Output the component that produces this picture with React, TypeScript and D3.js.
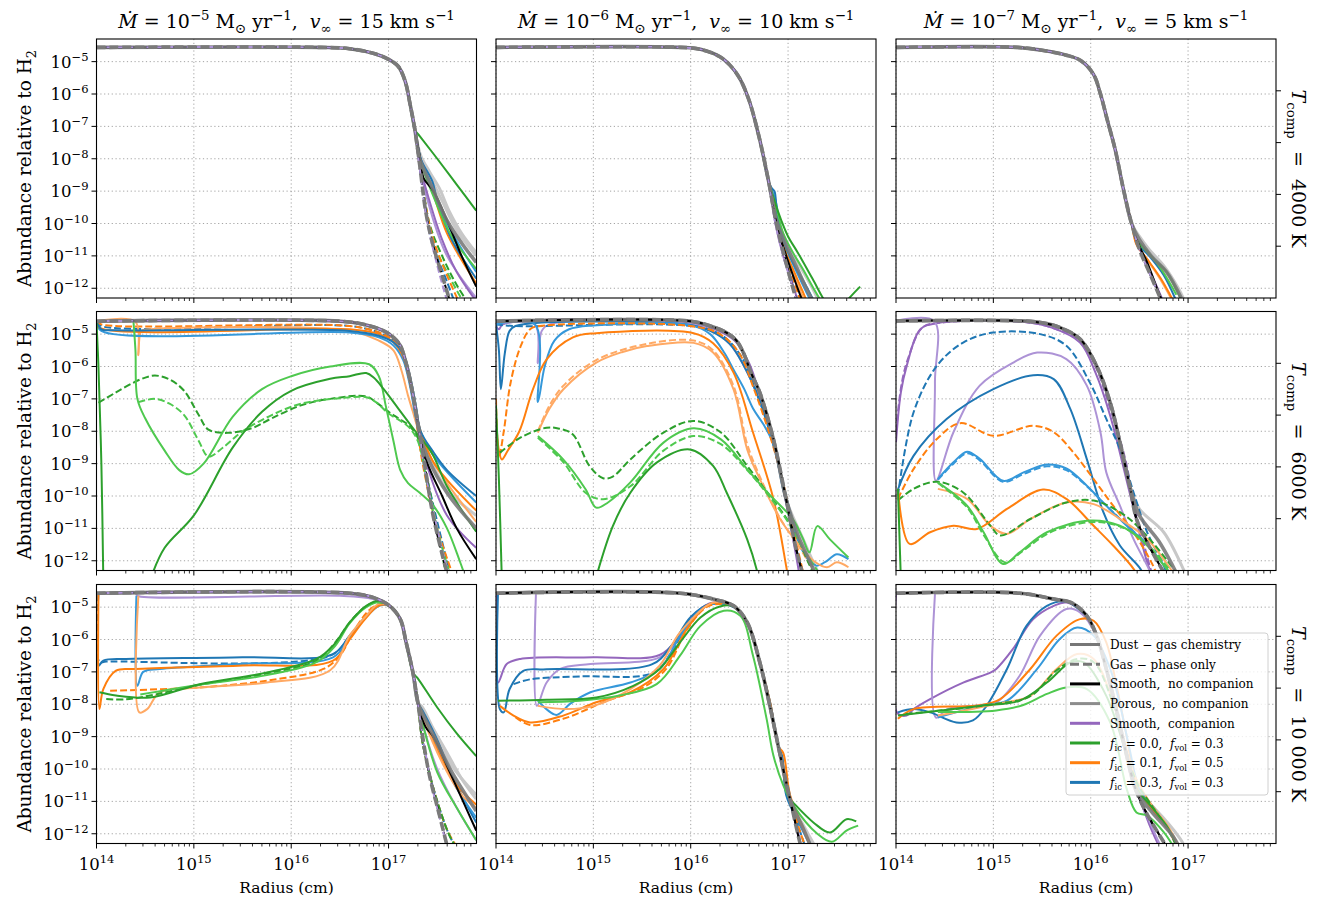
import React from 'react';
import * as d3 from 'd3';

type Pt = [number, number];
type Curve = { c: string; d?: boolean; p: Pt[] };

// ---------- data (log10 radius [cm], log10 abundance) ----------
const top11: Pt[] = [[14,-4.56],[16.3,-4.56],[16.6,-4.6],[16.85,-4.75],[17.0,-4.93],[17.1,-5.15],[17.17,-5.6],[17.22,-6.3],[17.27,-7.1]];
const p11: Curve[] = [
  { c: 'lgray', p: [...top11, [17.33,-7.9],[17.42,-8.4],[17.52,-8.9],[17.62,-9.6],[17.75,-10.3],[17.9,-10.9]] },
  { c: 'lgray', p: [...top11, [17.33,-8.0],[17.45,-8.7],[17.55,-9.3],[17.7,-10.2],[17.9,-11.0]] },
  { c: 'gray', p: [...top11, [17.32,-8.0],[17.45,-8.9],[17.6,-9.9],[17.75,-10.6],[17.9,-11.2]] },
  { c: 'gray', d: true, p: [...top11, [17.32,-8.2],[17.38,-9.6],[17.45,-10.6],[17.55,-11.6],[17.65,-12.6]] },
  { c: 'green', d: true, p: [...top11, [17.33,-8.3],[17.42,-10.0],[17.55,-11.0],[17.7,-11.9],[17.85,-12.6]] },
  { c: 'lgreen', d: true, p: [...top11, [17.33,-8.4],[17.45,-10.5],[17.6,-11.5],[17.8,-12.6]] },
  { c: 'orange', d: true, p: [...top11, [17.33,-8.5],[17.45,-10.4],[17.6,-11.6],[17.75,-12.6]] },
  { c: 'blue', d: true, p: [...top11, [17.33,-8.5],[17.45,-10.6],[17.6,-11.8],[17.7,-12.6]] },
  { c: 'lpurple', d: true, p: [...top11, [17.32,-8.3],[17.4,-10.0],[17.5,-11.3],[17.62,-12.6]] },
  { c: 'lpurple', p: [...top11, [17.33,-8.4],[17.45,-9.8],[17.6,-11.0],[17.9,-12.3]] },
  { c: 'purple', p: [...top11, [17.33,-8.3],[17.42,-9.3],[17.55,-10.5],[17.7,-11.5],[17.9,-12.4]] },
  { c: 'orange', p: [...top11, [17.33,-8.1],[17.45,-9.0],[17.6,-10.3],[17.9,-11.85]] },
  { c: 'lblue', p: [...top11, [17.33,-8.0],[17.45,-8.9],[17.6,-10.0],[17.9,-11.5]] },
  { c: 'blue', p: [...top11, [17.33,-8.0],[17.45,-8.7],[17.5,-9.3],[17.65,-10.5],[17.9,-11.7]] },
  { c: 'lgreen', p: [...top11, [17.32,-8.0],[17.48,-9.3],[17.65,-10.4],[17.9,-11.4]] },
  { c: 'black', p: [...top11, [17.32,-7.9],[17.36,-8.6],[17.46,-9.0],[17.6,-9.9],[17.75,-11.0],[17.9,-11.95]] },
  { c: 'black', d: true, p: [...top11, [17.32,-8.2],[17.38,-9.6],[17.45,-10.6],[17.55,-11.6],[17.65,-12.6]] },
  { c: 'green', p: [...top11, [17.32,-7.3],[17.5,-8.0],[17.7,-8.8],[17.9,-9.6]] },
];

const top12: Pt[] = [[14,-4.56],[15.9,-4.56],[16.1,-4.62],[16.3,-4.85],[16.4,-5.1],[16.5,-5.5],[16.6,-6.2],[16.7,-7.3],[16.8,-8.7]];
const p12: Curve[] = [
  { c: 'lgray', p: [...top12, [16.88,-9.8],[16.97,-10.5],[17.1,-11.2],[17.25,-12.0],[17.35,-12.6]] },
  { c: 'gray', p: [...top12, [16.88,-9.9],[16.97,-10.6],[17.08,-11.3],[17.22,-12.2],[17.3,-12.6]] },
  { c: 'gray', d: true, p: [...top12, [16.88,-10.0],[16.96,-11.0],[17.05,-12.0],[17.12,-12.7]] },
  { c: 'green', d: true, p: [...top12, [16.86,-9.6],[16.95,-10.6],[17.05,-11.5],[17.15,-12.3],[17.2,-12.7]] },
  { c: 'orange', d: true, p: [...top12, [16.87,-9.8],[16.95,-10.8],[17.05,-11.7],[17.15,-12.6]] },
  { c: 'blue', d: true, p: [...top12, [16.87,-9.9],[16.95,-10.9],[17.05,-11.9],[17.12,-12.6]] },
  { c: 'lpurple', d: true, p: [...top12, [16.87,-10.0],[16.95,-11.0],[17.05,-12.0],[17.1,-12.6]] },
  { c: 'purple', p: [...top12, [16.87,-10.0],[16.95,-11.0],[17.05,-11.9],[17.12,-12.6]] },
  { c: 'lorange', p: [...top12, [16.86,-9.5],[16.93,-10.5],[17.05,-11.5],[17.18,-12.5]] },
  { c: 'orange', p: [...top12, [16.84,-9.1],[16.87,-9.8],[16.95,-10.7],[17.05,-11.4],[17.15,-12.1],[17.22,-12.6]] },
  { c: 'lblue', p: [...top12, [16.85,-9.1],[16.88,-9.4],[16.92,-10.2],[17.0,-10.9],[17.12,-11.7],[17.25,-12.5]] },
  { c: 'blue', p: [...top12, [16.83,-8.9],[16.86,-9.0],[16.89,-9.8],[16.95,-10.5],[17.05,-11.2],[17.18,-11.9],[17.3,-12.6]] },
  { c: 'lgreen', p: [...top12, [16.87,-9.4],[16.95,-10.3],[17.05,-10.9],[17.15,-11.4],[17.28,-12.1],[17.38,-12.6]] },
  { c: 'black', p: [...top12, [16.88,-10.0],[16.97,-10.9],[17.05,-11.6],[17.15,-12.4],[17.2,-12.7]] },
  { c: 'black', d: true, p: [...top12, [16.88,-10.0],[16.96,-11.0],[17.05,-12.0],[17.12,-12.7]] },
  { c: 'green', p: [...top12, [16.86,-9.3],[16.93,-9.9],[17.0,-10.4],[17.1,-10.9],[17.25,-11.7],[17.4,-12.5],[17.5,-12.8],[17.6,-12.4],[17.74,-11.95]] },
];

const top13: Pt[] = [[14,-4.56],[15.25,-4.56],[15.5,-4.65],[15.75,-4.8],[15.9,-4.97],[16.03,-5.4],[16.1,-6.0],[16.17,-6.8],[16.25,-7.7],[16.34,-9.0],[16.42,-10.0]];
const p13: Curve[] = [
  { c: 'lgray', p: [...top13, [16.5,-10.4],[16.6,-10.8],[16.75,-11.3],[16.9,-12.0],[16.98,-12.5]] },
  { c: 'gray', p: [...top13, [16.5,-10.5],[16.62,-11.0],[16.78,-11.5],[16.93,-12.3]] },
  { c: 'gray', d: true, p: [...top13, [16.5,-10.8],[16.6,-11.5],[16.7,-12.2],[16.76,-12.6]] },
  { c: 'lorange', p: [...top13, [16.47,-10.6],[16.6,-11.2],[16.73,-11.8],[16.84,-12.4]] },
  { c: 'orange', p: [...top13, [16.47,-10.65],[16.58,-11.1],[16.72,-11.7],[16.85,-12.4]] },
  { c: 'blue', p: [...top13, [16.48,-10.6],[16.6,-11.0],[16.75,-11.6],[16.88,-12.4]] },
  { c: 'lgreen', p: [...top13, [16.48,-10.55],[16.57,-10.85],[16.7,-11.3],[16.88,-12.2]] },
  { c: 'green', p: [...top13, [16.48,-10.5],[16.55,-10.75],[16.65,-11.1],[16.78,-11.5],[16.92,-12.3]] },
  { c: 'purple', p: [...top13, [16.5,-10.75],[16.6,-11.4],[16.7,-12.1],[16.76,-12.5]] },
  { c: 'black', p: [...top13, [16.5,-10.7],[16.58,-11.2],[16.68,-12.0],[16.75,-12.5]] },
  { c: 'lpurple', d: true, p: [...top13, [16.5,-10.8],[16.6,-11.5],[16.7,-12.2],[16.76,-12.6]] },
  { c: 'black', d: true, p: [...top13, [16.5,-10.8],[16.6,-11.5],[16.7,-12.2],[16.76,-12.6]] },
];

const top21: Pt[] = [[14,-4.6],[16.5,-4.6],[16.75,-4.7],[16.95,-4.9],[17.05,-5.1],[17.12,-5.35],[17.18,-5.9],[17.22,-6.4],[17.27,-7.2],[17.32,-8.1]];
const p21: Curve[] = [
  { c: 'lgray', p: [...top21, [17.4,-8.7],[17.6,-9.8],[17.9,-10.6]] },
  { c: 'gray', p: [...top21, [17.4,-8.8],[17.6,-9.9],[17.9,-11.0]] },
  { c: 'gray', d: true, p: [...top21, [17.36,-8.8],[17.45,-10.5],[17.55,-11.8],[17.62,-12.6]] },
  { c: 'lpurple', d: true, p: [...top21, [17.36,-9.0],[17.5,-11.0],[17.6,-12.2],[17.66,-12.6]] },
  { c: 'purple', p: [...top21, [17.4,-9.1],[17.6,-10.6],[17.9,-11.6]] },
  { c: 'blue', d: true, p: [[14,-4.6],[14.05,-4.75],[16.6,-4.75],[16.9,-4.95],[17.05,-5.2],[17.15,-5.7],[17.22,-6.5],[17.28,-7.5],[17.35,-8.8],[17.5,-10.8],[17.65,-12.6]] },
  { c: 'orange', d: true, p: [[14,-4.6],[14.05,-4.7],[16.6,-4.75],[16.9,-4.95],[17.05,-5.2],[17.15,-5.7],[17.22,-6.5],[17.28,-7.6],[17.35,-9.0],[17.5,-11.0],[17.68,-12.6]] },
  { c: 'lorange', p: [[14,-4.6],[14.4,-4.62],[14.43,-5.65],[14.46,-4.9],[14.55,-4.85],[16.6,-4.9],[16.9,-5.2],[17.05,-5.5],[17.13,-6.1],[17.2,-6.9],[17.25,-7.4],[17.3,-7.9],[17.45,-8.9],[17.6,-9.6],[17.9,-10.8]] },
  { c: 'lblue', p: [[14,-4.6],[14.05,-4.9],[16.6,-4.95],[16.9,-5.1],[17.05,-5.35],[17.15,-5.8],[17.22,-6.6],[17.3,-7.8],[17.45,-8.7],[17.9,-10.2]] },
  { c: 'orange', p: [[14,-4.6],[14.03,-4.8],[16.6,-4.85],[16.9,-5.0],[17.05,-5.25],[17.15,-5.7],[17.22,-6.5],[17.28,-7.4],[17.33,-8.0],[17.45,-8.9],[17.6,-9.5],[17.9,-10.45]] },
  { c: 'blue', p: [[14,-4.6],[14.05,-4.85],[14.2,-4.88],[16.6,-4.9],[16.9,-5.05],[17.05,-5.25],[17.15,-5.6],[17.22,-6.3],[17.28,-7.2],[17.33,-8.0],[17.45,-8.6],[17.6,-9.2],[17.9,-10.0]] },
  { c: 'black', p: [...top21, [17.4,-9.0],[17.55,-10.0],[17.7,-11.0],[17.9,-11.95]] },
  { c: 'black', d: true, p: [...top21, [17.36,-8.8],[17.45,-10.5],[17.55,-11.8],[17.62,-12.6]] },
  { c: 'green', d: true, p: [[14.02,-7.12],[14.2,-6.8],[14.45,-6.4],[14.6,-6.28],[14.75,-6.4],[14.9,-6.75],[15.05,-7.5],[15.15,-7.95],[15.35,-8.05],[15.6,-7.9],[15.8,-7.6],[16.1,-7.2],[16.4,-7.0],[16.77,-6.92],[16.87,-7.1],[17.0,-7.4],[17.1,-7.6],[17.2,-7.8],[17.3,-8.2],[17.4,-9.5],[17.5,-11.0],[17.6,-12.6]] },
  { c: 'lgreen', d: true, p: [[14.43,-7.1],[14.6,-7.0],[14.75,-7.15],[14.9,-7.5],[15.05,-8.3],[15.15,-8.78],[15.3,-8.5],[15.5,-8.0],[15.8,-7.5],[16.1,-7.15],[16.5,-6.98],[16.77,-6.95],[16.87,-7.1],[17.0,-7.45],[17.2,-7.85],[17.3,-8.3],[17.42,-10.0],[17.55,-11.6],[17.65,-12.6]] },
  { c: 'lgreen', p: [[14.38,-4.62],[14.4,-5.5],[14.42,-7.0],[14.5,-7.6],[14.7,-8.6],[14.85,-9.2],[14.95,-9.33],[15.1,-9.0],[15.4,-7.55],[15.7,-6.7],[16.0,-6.3],[16.4,-6.0],[16.8,-5.93],[16.9,-6.3],[16.97,-7.2],[17.05,-8.3],[17.12,-9.2],[17.2,-9.6],[17.32,-9.9],[17.46,-10.3],[17.6,-11.0],[17.73,-12.0],[17.8,-12.6]] },
  { c: 'green', p: [[14,-4.62],[14.02,-6],[14.05,-9],[14.07,-12.6]] },
  { c: 'green', p: [[14.55,-12.6],[14.7,-11.6],[15.0,-10.6],[15.4,-8.5],[15.7,-7.4],[16.0,-6.75],[16.4,-6.38],[16.6,-6.3],[16.77,-6.2],[16.85,-6.35],[16.95,-6.7],[17.1,-7.3],[17.2,-7.7],[17.3,-8.1],[17.45,-8.7],[17.6,-9.7],[17.9,-11.1]] },
];

const top22: Pt[] = [[14,-4.6],[16.0,-4.6],[16.2,-4.75],[16.37,-4.96],[16.47,-5.2],[16.54,-5.57],[16.62,-6.2],[16.71,-6.81],[16.85,-8.25],[16.98,-10.1]];
const p22: Curve[] = [
  { c: 'lgray', p: [...top22, [17.15,-11.3],[17.3,-12.3],[17.36,-12.6]] },
  { c: 'gray', p: [...top22, [17.1,-11.2],[17.25,-12.2],[17.3,-12.6]] },
  { c: 'gray', d: true, p: [...top22, [17.08,-11.6],[17.15,-12.4],[17.18,-12.7]] },
  { c: 'purple', p: [[14,-4.75],[14.03,-4.85],[14.07,-4.7],[16.0,-4.65],[16.25,-4.85],[16.45,-5.2],[16.6,-5.9],[16.72,-7.0],[16.85,-8.3],[16.98,-10.2],[17.08,-11.8],[17.12,-12.5]] },
  { c: 'lpurple', p: [[14,-4.7],[14.4,-4.7],[14.43,-5.9],[14.47,-4.9],[14.55,-4.7],[16.0,-4.68],[16.2,-4.85],[16.4,-5.3],[16.55,-6.0],[16.7,-7.0],[16.85,-8.4],[16.98,-10.2],[17.1,-11.9],[17.15,-12.5]] },
  { c: 'blue', d: true, p: [[14,-4.7],[14.2,-4.75],[16.0,-4.75],[16.3,-5.0],[16.5,-5.6],[16.65,-6.6],[16.8,-7.9],[16.95,-9.7],[17.05,-11.2],[17.15,-12.4]] },
  { c: 'blue', p: [[14,-4.7],[14.03,-5.5],[14.05,-6.7],[14.09,-5.6],[14.14,-4.9],[14.2,-4.75],[16.0,-4.72],[16.2,-4.9],[16.4,-5.3],[16.55,-6.0],[16.7,-7.0],[16.85,-8.4],[16.98,-10.0],[17.1,-11.3],[17.25,-12.2]] },
  { c: 'lblue', p: [[14,-4.7],[14.4,-4.7],[14.43,-7.1],[14.5,-6.0],[14.6,-5.2],[14.75,-4.85],[15.0,-4.73],[16.0,-4.73],[16.2,-5.0],[16.35,-5.6],[16.44,-6.1],[16.55,-6.7],[16.64,-7.3],[16.75,-7.8],[16.85,-8.4],[16.95,-9.8],[17.05,-10.9],[17.15,-11.7],[17.29,-12.15],[17.4,-12.0],[17.5,-11.8],[17.62,-11.95]] },
  { c: 'orange', d: true, p: [[14.0,-7.0],[14.03,-8.8],[14.08,-8.0],[14.15,-6.5],[14.25,-5.4],[14.35,-4.85],[14.45,-4.75],[16.0,-4.75],[16.3,-5.0],[16.5,-5.6],[16.65,-6.7],[16.8,-8.0],[16.95,-9.6],[17.05,-11.0],[17.15,-12.3]] },
  { c: 'orange', p: [[14.0,-7.5],[14.03,-8.6],[14.06,-8.87],[14.12,-8.6],[14.24,-8.0],[14.38,-6.7],[14.52,-5.78],[14.79,-5.1],[15.03,-4.97],[16.03,-4.97],[16.23,-5.28],[16.44,-6.19],[16.64,-8.04],[16.85,-10.1],[16.98,-12.16],[17.0,-12.5]] },
  { c: 'lorange', d: true, p: [[14.43,-8.0],[14.55,-7.2],[14.69,-6.6],[15.03,-5.8],[15.55,-5.3],[16.03,-5.2],[16.23,-5.5],[16.44,-6.6],[16.58,-8.4],[16.71,-9.4],[16.92,-10.7],[17.12,-11.6],[17.26,-12.3]] },
  { c: 'lorange', p: [[14.43,-8.04],[14.55,-7.3],[14.69,-6.71],[15.03,-5.88],[15.3,-5.55],[15.55,-5.37],[16.03,-5.27],[16.23,-5.57],[16.44,-6.71],[16.58,-8.56],[16.71,-9.48],[16.92,-10.72],[17.12,-11.54],[17.26,-12.0],[17.4,-12.2],[17.5,-12.05],[17.62,-12.2]] },
  { c: 'black', p: [...top22, [17.08,-11.6],[17.15,-12.4],[17.18,-12.7]] },
  { c: 'black', d: true, p: [...top22, [17.08,-11.6],[17.15,-12.4],[17.18,-12.7]] },
  { c: 'green', d: true, p: [[14.04,-8.66],[14.25,-8.2],[14.52,-7.89],[14.65,-7.92],[14.79,-8.1],[14.96,-9.07],[15.1,-9.45],[15.2,-9.4],[15.38,-8.87],[15.72,-8.04],[16.03,-7.68],[16.31,-8.04],[16.58,-9.07],[16.79,-9.9],[16.99,-10.72],[17.1,-11.3],[17.2,-12.0],[17.28,-12.5]] },
  { c: 'lgreen', d: true, p: [[14.43,-8.2],[14.69,-8.95],[14.92,-9.9],[15.1,-10.1],[15.38,-9.7],[15.72,-8.6],[16.03,-8.15],[16.31,-8.4],[16.58,-9.2],[16.79,-9.95],[17.0,-10.8],[17.15,-11.6],[17.3,-12.3]] },
  { c: 'lgreen', p: [[14.43,-8.15],[14.69,-8.87],[14.92,-9.79],[15.03,-10.36],[15.15,-10.2],[15.38,-9.58],[15.72,-8.35],[16.03,-7.91],[16.31,-8.25],[16.58,-9.17],[16.79,-9.9],[17.05,-10.72],[17.15,-11.3],[17.22,-11.74],[17.3,-10.93],[17.43,-11.34],[17.62,-11.9]] },
  { c: 'green', p: [[14.0,-7.2],[14.03,-9.5],[14.06,-12.6]] },
  { c: 'green', p: [[15.02,-12.6],[15.2,-10.93],[15.38,-9.9],[15.65,-8.97],[15.99,-8.56],[16.23,-9.07],[16.37,-9.9],[16.58,-11.34],[16.68,-12.3],[16.7,-12.6]] },
];

const top23: Pt[] = [[14,-4.59],[15.27,-4.59],[15.5,-4.65],[15.68,-4.79],[15.89,-5.15],[16.06,-5.98],[16.2,-7.11],[16.3,-8.34],[16.4,-9.68]];
const p23: Curve[] = [
  { c: 'lgray', p: [...top23, [16.5,-10.4],[16.75,-11.12],[16.95,-12.25],[17.0,-12.6]] },
  { c: 'gray', p: [...top23, [16.5,-10.6],[16.7,-11.4],[16.85,-12.2],[16.9,-12.5]] },
  { c: 'gray', d: true, p: [...top23, [16.47,-10.71],[16.58,-11.43],[16.71,-12.15],[16.8,-12.6]] },
  { c: 'purple', p: [[14.0,-8.34],[14.05,-6.8],[14.11,-5.98],[14.25,-4.85],[14.42,-4.66],[15.3,-4.62],[15.6,-4.8],[15.89,-5.26],[16.05,-6.2],[16.2,-7.52],[16.4,-9.9],[16.58,-12.05],[16.65,-12.6]] },
  { c: 'purple', d: true, p: [[14.0,-8.0],[14.06,-6.5],[14.13,-5.7],[14.27,-4.8],[14.45,-4.65],[15.3,-4.62],[15.6,-4.8],[15.89,-5.2],[16.05,-6.0],[16.2,-7.3],[16.35,-8.8],[16.45,-10.3],[16.6,-12.1],[16.65,-12.6]] },
  { c: 'lpurple', p: [[14.0,-4.59],[14.39,-4.59],[14.4,-6.5],[14.41,-9.53],[14.59,-8.03],[14.86,-6.59],[15.21,-5.87],[15.45,-5.57],[15.75,-5.77],[15.96,-6.59],[16.1,-8.03],[16.16,-9.27],[16.3,-10.3],[16.44,-11.33],[16.58,-12.15],[16.65,-12.6]] },
  { c: 'blue', d: true, p: [[14.02,-9.99],[14.18,-7.42],[14.42,-5.98],[14.69,-5.26],[15.0,-4.95],[15.48,-5.0],[15.75,-5.36],[15.99,-6.49],[16.16,-7.62],[16.3,-8.55],[16.44,-9.89],[16.58,-11.12],[16.75,-12.15],[16.8,-12.6]] },
  { c: 'blue', p: [[14.02,-9.8],[14.18,-8.76],[14.52,-7.62],[15.0,-6.7],[15.41,-6.27],[15.62,-6.39],[15.79,-7.31],[15.96,-8.86],[16.13,-10.5],[16.3,-11.53],[16.51,-12.25],[16.56,-12.6]] },
  { c: 'orange', d: true, p: [[14.02,-10.09],[14.18,-9.17],[14.42,-8.24],[14.66,-7.75],[15.0,-8.14],[15.41,-7.83],[15.62,-8.03],[15.82,-8.65],[16.03,-9.48],[16.23,-10.3],[16.44,-11.12],[16.64,-12.15],[16.7,-12.6]] },
  { c: 'lblue', d: true, p: [[14.43,-9.5],[14.59,-9.0],[14.73,-8.68],[14.86,-8.9],[15.1,-9.56],[15.31,-9.32],[15.55,-9.08],[15.75,-9.2],[15.96,-9.7],[16.16,-10.3],[16.37,-10.9],[16.58,-11.5],[16.78,-12.25],[16.85,-12.6]] },
  { c: 'lblue', p: [[14.43,-9.48],[14.59,-8.96],[14.73,-8.63],[14.86,-8.85],[15.1,-9.53],[15.31,-9.27],[15.55,-9.03],[15.75,-9.15],[15.96,-9.68],[16.16,-10.3],[16.37,-10.92],[16.58,-11.5],[16.78,-12.25],[16.85,-12.6]] },
  { c: 'lorange', p: [[14.43,-9.78],[14.73,-10.09],[14.97,-10.92],[15.14,-11.17],[15.38,-10.71],[15.75,-10.2],[16.03,-10.25],[16.3,-10.71],[16.58,-11.33],[16.82,-12.25],[16.9,-12.6]] },
  { c: 'green', d: true, p: [[14.02,-10.14],[14.18,-9.78],[14.42,-9.56],[14.69,-9.89],[14.97,-10.92],[15.07,-11.22],[15.38,-10.71],[15.75,-10.2],[16.03,-10.14],[16.3,-10.5],[16.51,-11.02],[16.85,-12.25],[16.92,-12.6]] },
  { c: 'orange', p: [[14.02,-9.78],[14.14,-11.48],[14.35,-11.12],[14.59,-10.92],[14.83,-11.02],[15.14,-10.4],[15.51,-9.8],[15.75,-10.09],[16.03,-10.92],[16.23,-11.53],[16.44,-12.25],[16.5,-12.6]] },
  { c: 'lgreen', d: true, p: [[14.43,-9.6],[14.73,-10.35],[14.9,-11.2],[15.12,-12.05],[15.3,-11.7],[15.6,-11.1],[16.05,-10.8],[16.35,-11.0],[16.55,-11.4],[16.8,-12.25],[16.88,-12.6]] },
  { c: 'lgreen', p: [[14.43,-9.58],[14.73,-10.3],[14.9,-11.12],[15.1,-12.1],[15.27,-11.74],[15.55,-11.12],[15.99,-10.76],[16.3,-10.92],[16.51,-11.33],[16.78,-12.25],[16.86,-12.6]] },
  { c: 'black', p: [...top23, [16.47,-10.71],[16.58,-11.43],[16.71,-12.15],[16.8,-12.6]] },
  { c: 'black', d: true, p: [...top23, [16.47,-10.71],[16.58,-11.43],[16.71,-12.15],[16.8,-12.6]] },
  { c: 'green', p: [[14.02,-9.78],[14.05,-12.6]] },
];

const top31: Pt[] = [[14,-4.57],[16.6,-4.57],[16.84,-4.7],[17.01,-4.96],[17.12,-5.37],[17.18,-6.09],[17.25,-7.02],[17.3,-7.94]];
const desc31: Pt[] = [[17.01,-4.96],[17.12,-5.37],[17.18,-6.09],[17.25,-7.02]];
const p31: Curve[] = [
  { c: 'lgray', p: [...top31, [17.35,-8.1],[17.45,-8.7],[17.6,-9.5],[17.75,-10.3],[17.9,-10.93]] },
  { c: 'lgray', p: [...top31, [17.35,-8.2],[17.5,-9.0],[17.65,-9.9],[17.9,-10.8]] },
  { c: 'gray', p: [...top31, [17.35,-8.3],[17.5,-9.2],[17.65,-10.1],[17.9,-11.3]] },
  { c: 'gray', d: true, p: [...top31, [17.35,-9.0],[17.42,-10.2],[17.52,-11.4],[17.62,-12.6]] },
  { c: 'lpurple', p: [[14.41,-4.6],[14.42,-4.65],[16.5,-4.65],[16.84,-4.75],...desc31, [17.3,-7.94],[17.35,-8.6],[17.5,-10.0],[17.7,-11.2],[17.9,-12.2]] },
  { c: 'lpurple', d: true, p: [...top31, [17.35,-9.0],[17.45,-10.6],[17.55,-11.8],[17.62,-12.6]] },
  { c: 'blue', d: true, p: [[14.02,-4.6],[14.03,-6.7],[14.1,-6.68],[16.4,-6.5],[16.6,-5.9],[16.77,-5.3],[16.91,-4.93],...desc31, [17.3,-7.94],[17.35,-9.2],[17.5,-11.0],[17.65,-12.2],[17.75,-12.6]] },
  { c: 'blue', p: [[14.0,-4.6],[14.02,-6.81],[14.07,-6.65],[14.3,-6.6],[15.5,-6.55],[16.43,-6.45],[16.6,-5.88],[16.77,-5.27],[16.91,-4.91],...desc31, [17.3,-7.94],[17.35,-8.2],[17.5,-9.1],[17.65,-10.2],[17.9,-11.65]] },
  { c: 'lblue', p: [[14.41,-4.65],[14.42,-7.43],[14.48,-7.0],[14.65,-6.91],[15.5,-6.75],[16.43,-6.55],[16.6,-5.95],[16.77,-5.3],[16.91,-4.95],...desc31, [17.3,-7.94],[17.35,-8.3],[17.5,-9.4],[17.7,-10.6],[17.9,-11.5]] },
  { c: 'orange', d: true, p: [[14.14,-7.58],[15.06,-7.48],[15.75,-7.27],[16.33,-6.91],[16.5,-6.5],[16.65,-5.7],[16.8,-5.1],[16.92,-4.9],...desc31, [17.3,-7.94],[17.35,-9.2],[17.48,-10.8],[17.62,-12.0],[17.75,-12.6]] },
  { c: 'orange', p: [[14.02,-4.6],[14.03,-8.15],[14.07,-7.53],[14.2,-6.96],[14.4,-6.91],[15.5,-6.8],[16.43,-6.65],[16.6,-6.0],[16.75,-5.4],[16.9,-4.95],...desc31, [17.3,-7.94],[17.35,-8.4],[17.5,-9.4],[17.7,-10.5],[17.9,-11.1]] },
  { c: 'lorange', p: [[14.43,-4.65],[14.44,-8.25],[14.52,-8.15],[14.65,-7.63],[15.06,-7.48],[15.75,-7.33],[16.4,-6.95],[16.6,-5.88],[16.77,-5.27],[16.9,-4.9],...desc31, [17.3,-7.94],[17.35,-8.4],[17.55,-9.8],[17.75,-10.8],[17.9,-11.2]] },
  { c: 'green', d: true, p: [[14.1,-7.84],[14.3,-7.85],[14.6,-7.7],[15.06,-7.4],[15.75,-7.05],[16.26,-6.65],[16.45,-6.1],[16.62,-5.4],[16.78,-4.95],[16.9,-4.85],...desc31, [17.3,-7.94],[17.35,-9.2],[17.5,-11.0],[17.65,-12.2],[17.75,-12.6]] },
  { c: 'lgreen', p: [[14.45,-7.7],[15.06,-7.4],[15.75,-7.1],[16.26,-6.7],[16.45,-6.2],[16.6,-5.5],[16.77,-5.0],[16.9,-4.85],...desc31, [17.3,-7.94],[17.35,-8.6],[17.5,-10.1],[17.7,-11.2],[17.9,-12.2]] },
  { c: 'black', p: [...top31, [17.33,-8.3],[17.38,-8.7],[17.46,-9.0],[17.6,-9.9],[17.75,-10.9],[17.9,-11.9]] },
  { c: 'black', d: true, p: [...top31, [17.35,-9.0],[17.42,-10.2],[17.52,-11.4],[17.62,-12.6]] },
  { c: 'green', p: [[14.03,-7.63],[14.2,-7.73],[14.55,-7.79],[15.06,-7.38],[15.75,-7.02],[16.26,-6.6],[16.43,-6.19],[16.6,-5.47],[16.77,-4.96],[16.9,-4.8],...desc31, [17.3,-7.2],[17.5,-8.1],[17.7,-8.9],[17.9,-9.6]] },
];

const top32: Pt[] = [[14,-4.57],[15.89,-4.57],[16.23,-4.75],[16.44,-4.96],[16.58,-5.47],[16.71,-6.71],[16.82,-8.15],[16.92,-9.59],[17.02,-10.93]];
const desc32: Pt[] = [[16.44,-4.98],[16.58,-5.47],[16.71,-6.71],[16.82,-8.15],[16.92,-9.59],[17.02,-10.93]];
const p32: Curve[] = [
  { c: 'lgray', p: [...top32, [17.15,-11.7],[17.28,-12.4],[17.32,-12.6]] },
  { c: 'gray', p: [...top32, [17.15,-11.8],[17.25,-12.5],[17.28,-12.7]] },
  { c: 'gray', d: true, p: [...top32, [17.12,-12.26],[17.15,-12.6]] },
  { c: 'purple', p: [[14.0,-4.6],[14.02,-7.33],[14.11,-6.76],[14.25,-6.6],[15.0,-6.55],[15.68,-6.48],[15.89,-5.88],[16.06,-5.16],[16.23,-4.86],...desc32, [17.1,-12.0],[17.15,-12.6]] },
  { c: 'lpurple', p: [[14.41,-4.6],[14.42,-8.05],[14.52,-7.33],[14.66,-6.91],[14.97,-6.76],[15.68,-6.55],[15.9,-5.9],[16.06,-5.2],[16.23,-4.88],...desc32, [17.1,-11.9],[17.15,-12.6]] },
  { c: 'blue', d: true, p: [[14.18,-7.38],[14.35,-7.23],[14.86,-7.14],[15.62,-7.02],[15.82,-6.3],[16.0,-5.35],[16.2,-4.92],...desc32, [17.12,-11.9],[17.2,-12.6]] },
  { c: 'blue', p: [[14.02,-4.6],[14.04,-8.15],[14.08,-8.25],[14.14,-7.53],[14.28,-6.97],[14.52,-6.92],[15.6,-6.77],[15.8,-6.2],[16.0,-5.3],[16.2,-4.9],[16.44,-5.0],[16.58,-5.5],[16.71,-6.75],[16.82,-8.0],[16.9,-9.3],[16.94,-9.6],[16.98,-10.8],[17.1,-11.6],[17.25,-12.4],[17.3,-12.6]] },
  { c: 'lblue', p: [[14.43,-7.89],[14.62,-8.33],[14.76,-7.99],[14.97,-7.63],[15.38,-7.33],[15.68,-6.91],[15.89,-5.9],[16.06,-5.2],[16.2,-4.92],...desc32, [17.12,-11.7],[17.25,-12.5]] },
  { c: 'orange', d: true, p: [[14.2,-8.4],[14.35,-8.64],[14.69,-8.45],[15.14,-7.89],[15.5,-7.5],[15.75,-6.9],[15.96,-5.7],[16.16,-5.0],[16.3,-4.9],...desc32, [17.12,-11.9],[17.2,-12.6]] },
  { c: 'orange', p: [[14.04,-8.05],[14.18,-8.35],[14.35,-8.56],[14.69,-8.35],[15.03,-7.94],[15.38,-7.63],[15.72,-6.91],[15.96,-5.68],[16.16,-4.96],[16.3,-4.86],[16.44,-4.98],[16.58,-5.47],[16.71,-6.71],[16.82,-8.0],[16.9,-9.3],[16.95,-9.5],[17.02,-10.8],[17.15,-11.8],[17.25,-12.5]] },
  { c: 'lorange', p: [[14.43,-8.05],[14.73,-8.15],[15.0,-8.05],[15.38,-7.53],[15.68,-6.81],[15.89,-5.78],[16.23,-4.86],...desc32, [17.15,-11.8],[17.25,-12.5]] },
  { c: 'black', p: [...top32, [17.12,-12.26],[17.15,-12.6]] },
  { c: 'black', d: true, p: [...top32, [17.12,-12.26],[17.15,-12.6]] },
  { c: 'lgreen', p: [[14.43,-7.94],[14.86,-7.89],[15.27,-7.73],[15.65,-7.38],[15.89,-6.5],[16.1,-5.58],[16.34,-5.11],[16.51,-5.27],[16.64,-6.5],[16.78,-8.46],[16.85,-9.59],[16.95,-10.5],[17.05,-11.1],[17.3,-12.0],[17.45,-12.25],[17.6,-11.9],[17.72,-11.75]] },
  { c: 'green', p: [[14.02,-7.89],[14.52,-7.86],[15.03,-7.79],[15.41,-7.43],[15.68,-6.91],[15.89,-6.09],[16.1,-5.32],[16.3,-4.98],...desc32, [17.05,-11.03],[17.26,-11.65],[17.43,-11.96],[17.6,-11.55],[17.7,-11.62]] },
];

const top33: Pt[] = [[14,-4.57],[15.27,-4.57],[15.62,-4.75],[15.8,-4.86],[15.96,-5.27],[16.06,-5.88],[16.16,-6.91],[16.27,-8.25],[16.37,-9.59],[16.47,-10.7]];
const desc33: Pt[] = [[15.96,-5.27],[16.06,-5.88],[16.16,-6.91],[16.27,-8.25],[16.37,-9.59],[16.47,-10.6]];
const p33: Curve[] = [
  { c: 'lgray', p: [...top33, [16.65,-11.2],[16.92,-12.16],[16.98,-12.5]] },
  { c: 'gray', p: [...top33, [16.62,-11.3],[16.85,-12.1],[16.92,-12.5]] },
  { c: 'gray', d: true, p: [...top33, [16.58,-11.4],[16.71,-12.06],[16.8,-12.5]] },
  { c: 'purple', p: [[14.0,-4.6],[14.01,-8.25],[14.11,-8.35],[14.18,-8.15],[14.35,-7.84],[14.69,-7.33],[14.97,-7.02],[15.03,-6.91],[15.2,-6.3],[15.41,-5.37],[15.62,-4.96],[15.75,-4.86],...desc33, [16.6,-11.7],[16.72,-12.5]] },
  { c: 'lpurple', p: [[14.4,-4.6],[14.41,-8.41],[14.53,-8.15],[14.86,-8.03],[15.03,-7.94],[15.27,-7.12],[15.48,-5.88],[15.75,-5.06],[15.89,-5.16],[16.06,-5.9],[16.16,-6.95],[16.27,-8.3],[16.37,-9.6],[16.47,-10.7],[16.6,-11.6],[16.72,-12.4]] },
  { c: 'blue', p: [[14.02,-8.25],[14.18,-8.15],[14.35,-8.25],[14.62,-8.56],[14.79,-8.5],[14.93,-8.05],[15.14,-6.91],[15.34,-5.58],[15.55,-4.96],[15.75,-4.83],[15.92,-5.17],...desc33, [16.62,-11.2],[16.8,-11.9],[16.9,-12.5]] },
  { c: 'orange', p: [[14.02,-8.45],[14.18,-8.15],[14.86,-8.03],[15.07,-7.84],[15.38,-6.91],[15.65,-5.88],[15.89,-5.37],[16.03,-5.42],[16.16,-6.09],[16.27,-7.5],[16.37,-9.0],[16.47,-10.5],[16.62,-11.2],[16.8,-11.9],[16.9,-12.5]] },
  { c: 'lblue', p: [[14.43,-8.41],[14.86,-8.05],[15.14,-7.89],[15.45,-6.91],[15.68,-5.99],[15.86,-5.63],[16.03,-5.88],[16.2,-6.91],[16.3,-8.0],[16.4,-9.4],[16.5,-10.6],[16.65,-11.2],[16.85,-12.1],[16.92,-12.5]] },
  { c: 'lorange', p: [[14.43,-8.35],[15.03,-7.99],[15.38,-7.74],[15.65,-6.91],[15.86,-6.45],[16.03,-6.6],[16.23,-7.94],[16.35,-9.2],[16.45,-10.2],[16.6,-11.0],[16.8,-11.8],[16.92,-12.5]] },
  { c: 'green', d: true, p: [[14.1,-8.3],[15.0,-8.0],[15.38,-7.75],[15.65,-6.95],[15.86,-6.6],[16.03,-6.7],[16.23,-8.0],[16.35,-9.3],[16.47,-10.4],[16.62,-11.1],[16.8,-11.9],[16.9,-12.5]] },
  { c: 'green', p: [[14.02,-8.35],[14.86,-8.05],[15.27,-7.89],[15.55,-7.33],[15.79,-6.71],[15.93,-6.71],[16.16,-7.74],[16.37,-9.59],[16.47,-10.6],[16.62,-11.15],[16.8,-11.85],[16.9,-12.5]] },
  { c: 'black', p: [...top33, [16.58,-11.4],[16.71,-12.06],[16.8,-12.5]] },
  { c: 'black', d: true, p: [...top33, [16.58,-11.4],[16.71,-12.06],[16.8,-12.5]] },
  { c: 'lgreen', p: [[14.43,-8.24],[15.03,-8.19],[15.3,-8.03],[15.55,-7.68],[15.75,-7.48],[15.96,-7.53],[16.2,-8.56],[16.37,-10.62],[16.47,-11.34],[16.58,-11.44],[16.75,-11.95],[16.85,-12.4]] },
];

const PANELS: Curve[][][] = [[p11, p12, p13], [p21, p22, p23], [p31, p32, p33]];

const X_TICK_EXP = [14, 15, 16, 17];
const Y_TICK_EXP = [-12, -11, -10, -9, -8, -7, -6, -5];
const T_COMP = ['4000', '6000', '10 000'];
const MDOT_EXP = ['−5', '−6', '−7'];
const VINF = ['15', '10', '5'];
const LEGEND_LABELS = ['Dust − gas chemistry', 'Gas − phase only', 'Smooth,  no companion', 'Porous,  no companion', 'Smooth,  companion'];
const F_IC = ['0.0', '0.1', '0.3'];
const F_VOL = ['0.3', '0.5', '0.3'];

// ---------- styling ----------
const COLORS: Record<string, string> = {
  black: '#000000', gray: '#7a7a7a', lgray: '#c8c8c8',
  purple: '#9467bd', lpurple: '#ad93d6',
  green: '#2ca02c', lgreen: '#4fc94f',
  orange: '#ff7f0e', lorange: '#ffa964',
  blue: '#1f77b4', lblue: '#3598da',
};
const X_MIN = 1e14, X_MAX = 8e17, Y_MIN = 5e-13, Y_MAX = 5e-5;
const LEFTS = [96.5, 496, 896];
const TOPS = [39, 311.5, 584.5];
const W = 380, H = 259;
const FONT = "'DejaVu Serif', serif";

function rank(cv: Curve): number {
  if (cv.c === 'lgray') return 0;
  if (cv.c === 'black' && !cv.d) return 2;
  if (cv.c === 'gray' && !cv.d) return 3;
  if (cv.d && cv.c === 'black') return 4;
  if (cv.d && cv.c === 'lpurple') return 5;
  if (cv.d && cv.c === 'gray') return 6;
  return 1;
}

type Piece = { t: string; s?: 'sup' | 'sub'; i?: boolean };
function Rich(props: { pieces: Piece[]; size: number; x?: number; y?: number; anchor?: string; transform?: string }) {
  const { pieces, size, x, y, anchor, transform } = props;
  let level = 0;
  return (
    <text x={x} y={y} fontSize={size} textAnchor={anchor || 'start'} transform={transform} style={{ whiteSpace: 'pre' }} fontFamily={FONT}>
      {pieces.map((p, k) => {
        const target = p.s === 'sup' ? -0.42 * size : p.s === 'sub' ? 0.28 * size : 0;
        const dy = target - level;
        level = target;
        return (
          <tspan key={k} dy={dy} fontSize={p.s ? size * 0.7 : size} fontStyle={p.i ? 'italic' : 'normal'}>{p.t}</tspan>
        );
      })}
    </text>
  );
}

function Panel({ r, c }: { r: number; c: number }) {
  const L = LEFTS[c], T = TOPS[r];
  const x = d3.scaleLog().domain([X_MIN, X_MAX]).range([L, L + W]);
  const y = d3.scaleLog().domain([Y_MIN, Y_MAX]).range([T + H, T]);
  const line = d3.line<Pt>().x(d => x(Math.pow(10, d[0]))).y(d => y(Math.pow(10, d[1]))).curve(d3.curveCatmullRom.alpha(0.5));
  const clipId = `clip-${r}-${c}`;
  const minor: number[] = [];
  X_TICK_EXP.forEach(e => { for (let m = 2; m <= 9; m++) { const v = m * Math.pow(10, e); if (v < X_MAX) minor.push(v); } });
  const curves = PANELS[r][c].map((cv, k) => ({ cv, k })).sort((a, b) => rank(a.cv) - rank(b.cv) || a.k - b.k);
  return (
    <g>
      <defs><clipPath id={clipId}><rect x={L} y={T} width={W} height={H} /></clipPath></defs>
      <rect x={L} y={T} width={W} height={H} fill="#fff" />
      {X_TICK_EXP.map(e => (
        <line key={'gx' + e} x1={x(Math.pow(10, e))} x2={x(Math.pow(10, e))} y1={T} y2={T + H} stroke="#9a9a9a" strokeWidth={0.9} strokeDasharray="1.2,2.6" />
      ))}
      {Y_TICK_EXP.map(e => (
        <line key={'gy' + e} x1={L} x2={L + W} y1={y(Math.pow(10, e))} y2={y(Math.pow(10, e))} stroke="#9a9a9a" strokeWidth={0.9} strokeDasharray="1.2,2.6" />
      ))}
      <g clipPath={`url(#${clipId})`}>
        {curves.map(({ cv, k }) => (
          <path key={k} d={line(cv.p) || ''} fill="none" stroke={COLORS[cv.c]}
            strokeWidth={cv.c === 'lgray' ? 3 : cv.c === 'gray' ? 3.6 : 2}
            strokeOpacity={cv.c === 'gray' && !cv.d ? 0.9 : 1}
            strokeDasharray={cv.d ? (cv.c === 'gray' ? '9,4' : '7,3') : undefined} strokeLinejoin="round" />
        ))}
      </g>
      <rect x={L} y={T} width={W} height={H} fill="none" stroke="#000" strokeWidth={1.1} />
      {Y_TICK_EXP.map(e => (
        <line key={'ty' + e} x1={L - 5} x2={L} y1={y(Math.pow(10, e))} y2={y(Math.pow(10, e))} stroke="#000" strokeWidth={1} />
      ))}
      {X_TICK_EXP.map(e => (
        <line key={'tx' + e} x1={x(Math.pow(10, e))} x2={x(Math.pow(10, e))} y1={T + H} y2={T + H + 5} stroke="#000" strokeWidth={1} />
      ))}
      {minor.map((v, k) => (
        <line key={'mx' + k} x1={x(v)} x2={x(v)} y1={T + H} y2={T + H + 3} stroke="#000" strokeWidth={0.8} />
      ))}
      {c === 2 && [0.2, 0.4, 0.6, 0.8].map(f => (
        <line key={'rt' + f} x1={L + W} x2={L + W + 5} y1={T + H - f * H} y2={T + H - f * H} stroke="#000" strokeWidth={1} />
      ))}
      {c === 0 && Y_TICK_EXP.map(e => (
        <Rich key={'ly' + e} x={L - 8} y={y(Math.pow(10, e)) + 6} size={16.5} anchor="end"
          pieces={[{ t: '10' }, { t: '−' + Math.abs(e), s: 'sup' }]} />
      ))}
      {r === 2 && X_TICK_EXP.map(e => (
        <Rich key={'lx' + e} x={x(Math.pow(10, e))} y={T + H + 26} size={16.5} anchor="middle"
          pieces={[{ t: '10' }, { t: String(e), s: 'sup' }]} />
      ))}
      {r === 2 && (
        <text x={L + W / 2} y={T + H + 49} fontSize={15.5} textAnchor="middle" fontFamily={FONT}>Radius (cm)</text>
      )}
      {c === 0 && (
        <Rich x={0} y={0} size={18.5} anchor="middle" transform={`translate(31,${T + H / 2}) rotate(-90)`}
          pieces={[{ t: 'Abundance relative to H' }, { t: '2', s: 'sub' }]} />
      )}
      {r === 0 && (
        <Rich x={L + W / 2} y={28} size={19} anchor="middle"
          pieces={[{ t: 'Ṁ', i: true }, { t: ' = 10' }, { t: MDOT_EXP[c], s: 'sup' }, { t: ' M' }, { t: '⊙', s: 'sub' }, { t: ' yr' }, { t: '−1', s: 'sup' }, { t: ',  ' }, { t: 'v', i: true }, { t: '∞', s: 'sub' }, { t: ' = ' + VINF[c] + ' km s' }, { t: '−1', s: 'sup' }]} />
      )}
      {c === 2 && (
        <Rich x={0} y={0} size={19} anchor="middle" transform={`translate(1292,${T + H / 2}) rotate(90)`}
          pieces={[{ t: 'T', i: true }, { t: 'comp', s: 'sub' }, { t: '  =  ' + T_COMP[r] + ' K' }]} />
      )}
    </g>
  );
}

function Legend() {
  const x0 = 1066, y0 = 633, w = 202, h = 162;
  const rows = [
    { col: '#777777', dash: false, pieces: [{ t: LEGEND_LABELS[0] }] as Piece[] },
    { col: '#777777', dash: true, pieces: [{ t: LEGEND_LABELS[1] }] as Piece[] },
    { col: COLORS.black, dash: false, pieces: [{ t: LEGEND_LABELS[2] }] as Piece[] },
    { col: '#8c8c8c', dash: false, pieces: [{ t: LEGEND_LABELS[3] }] as Piece[] },
    { col: COLORS.purple, dash: false, pieces: [{ t: LEGEND_LABELS[4] }] as Piece[] },
    ...[COLORS.green, COLORS.orange, COLORS.blue].map((col, i) => ({
      col, dash: false,
      pieces: [{ t: 'f', i: true }, { t: 'ic', s: 'sub' }, { t: ' = ' + F_IC[i] + ',  ' }, { t: 'f', i: true }, { t: 'vol', s: 'sub' }, { t: ' = ' + F_VOL[i] }] as Piece[],
    })),
  ];
  return (
    <g>
      <rect x={x0} y={y0} width={w} height={h} rx={3} fill="#fff" fillOpacity={0.8} stroke="#d0d0d0" strokeWidth={1} />
      {rows.map((rw, i) => {
        const yy = y0 + 11.5 + i * 19.7;
        return (
          <g key={i}>
            <line x1={x0 + 4} x2={x0 + 34} y1={yy} y2={yy} stroke={rw.col} strokeWidth={3} strokeDasharray={rw.dash ? '9,4' : undefined} />
            <Rich x={x0 + 44} y={yy + 4.5} size={12} pieces={rw.pieces} />
          </g>
        );
      })}
    </g>
  );
}

export default function App() {
  const cells: [number, number][] = [];
  for (let r = 0; r < 3; r++) for (let c = 0; c < 3; c++) cells.push([r, c]);
  return (
    <svg width={1337} height={909} style={{ position: 'absolute', left: 0, top: 0, background: '#fff' }} fontFamily={FONT}>
      <rect x={0} y={0} width={1337} height={909} fill="#fff" />
      {cells.map(([r, c]) => <Panel key={`${r}-${c}`} r={r} c={c} />)}
      <Legend />
    </svg>
  );
}
